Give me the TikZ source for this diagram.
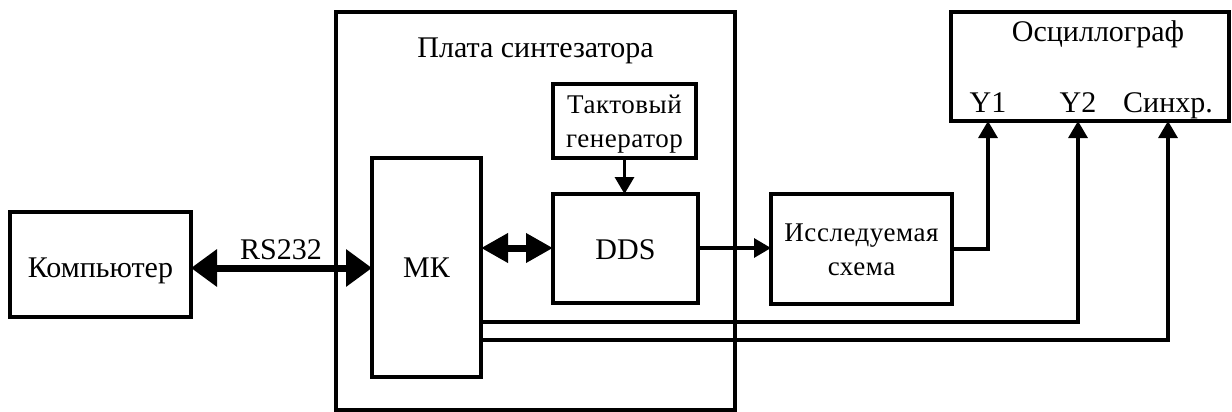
\documentclass[tikz,border=0pt]{standalone}
\usepackage{fontspec}
\setmainfont{Liberation Serif}
\usetikzlibrary{arrows.meta}
\begin{document}
\begin{tikzpicture}[x=1pt,y=-1pt,
  box/.style={draw,line width=4pt,inner sep=0pt},
  wire/.style={line width=3.2pt},
  sarrow/.style={wire,-{Triangle[length=17pt,width=19pt]}},
  rsarrow/.style={line width=7pt,{Triangle[length=26pt,width=36pt]}-{Triangle[length=26pt,width=36pt]}},
  busarrow/.style={line width=7pt,{Triangle[length=27pt,width=28pt]}-{Triangle[length=27pt,width=28pt]}},
  lbl/.style={font=\fontsize{30}{34}\selectfont,inner sep=0pt,anchor=base},
  small/.style={font=\fontsize{27}{34}\selectfont\addfontfeature{LetterSpace=2},align=center,inner sep=0pt}]
\useasboundingbox (0,0) rectangle (1232,412);
% boxes
\draw[box] (10,212) rectangle (191,317);
\node[lbl] (comp) at (100.5,277) {Компьютер};
\draw[box] (336,12) rectangle (735,410);
\node[lbl] (plata) at (535.5,58) {Плата синтезатора};
\draw[box] (553,84) rectangle (696,158);
\node[small] (gen) at (624.5,124) {Тактовый\\генератор};
\draw[box] (372,158) rectangle (481,377);
\node[lbl] (mk) at (426.5,277) {МК};
\draw[box] (553,194) rectangle (698,303);
\node[lbl] (dds) at (625.5,259) {DDS};
\draw[box] (771,194) rectangle (952,304);
\node[small] (dut) at (861.5,250) {Исследуемая\\схема};
\draw[box] (951,12) rectangle (1229,121);
\node[lbl] (osc) at (1098,42) {Осциллограф};
\node[lbl] (y1) at (988,113) {Y1};
\node[lbl] (y2) at (1078,113) {Y2};
\node[lbl] (sync) at (1168,113) {Синхр.};
% coordinates
\coordinate (compR) at (191,268);
\coordinate (mkL) at (372,268);
\coordinate (mkR1) at (481,248);
\coordinate (ddsL) at (553,248);
\coordinate (genB) at (624.5,158);
\coordinate (ddsT) at (624.5,194);
\coordinate (ddsR) at (698,248);
\coordinate (dutL) at (771,248);
\coordinate (dutR) at (952,249);
\coordinate (y1in) at (988,121);
\coordinate (y2in) at (1078,121);
\coordinate (syncin) at (1168,121);
\coordinate (mkR2) at (481,322);
\coordinate (mkR3) at (481,340);
% connectors
\draw[rsarrow] (compR) -- (mkL);
\node[lbl] (rs) at (281,259) {RS232};
\draw[busarrow] (mkR1) -- (ddsL);
\draw[sarrow] (genB) -- (ddsT);
\draw[sarrow] (ddsR) -- (dutL);
\draw[sarrow] (dutR) -| (y1in);
\draw[sarrow] (mkR2) -| (y2in);
\draw[sarrow] (mkR3) -| (syncin);
\end{tikzpicture}
\end{document}
